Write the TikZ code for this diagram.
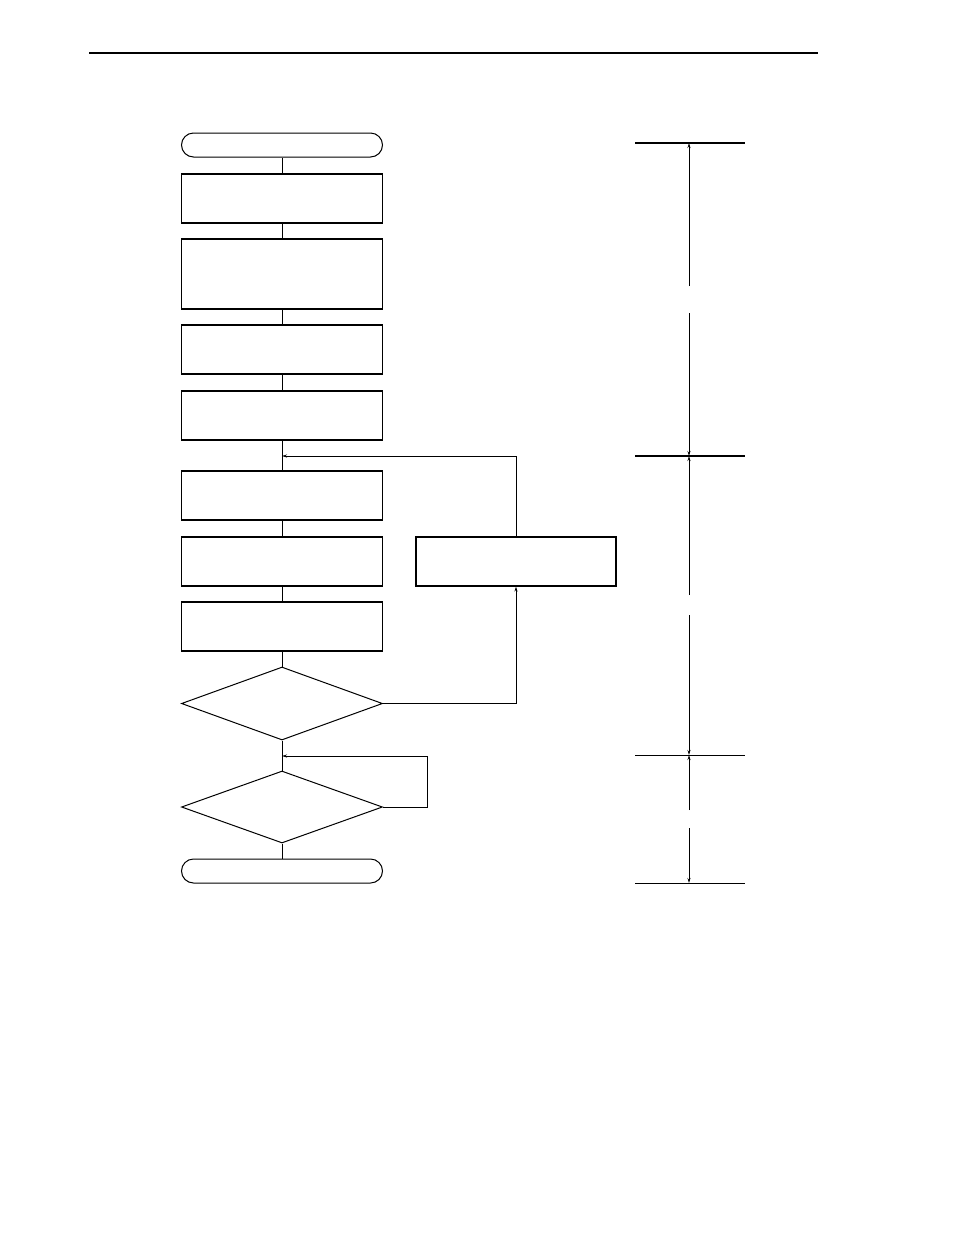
\documentclass[tikz,border=0pt]{standalone}
\usetikzlibrary{shapes.geometric,arrows.meta}
\begin{document}
\begin{tikzpicture}[x=1pt,y=-1pt,
  box/.style={draw, line width=1.1pt, minimum width=201pt, minimum height=49pt, inner sep=0pt},
  term/.style={draw, line width=1pt, rounded corners=12pt, minimum width=201pt, minimum height=24pt, inner sep=0pt},
  dec/.style={draw, diamond, line width=1pt, minimum width=201pt, minimum height=73pt, inner sep=0pt},
  link/.style={line width=0.9pt},
  arr/.style={link, -{Stealth[length=5pt,width=3pt]}},
  tick/.style={line width=1.6pt},
  thintick/.style={line width=1pt},
  dimline/.style={line width=0.9pt},
  dimarr/.style={dimline, -{Stealth[length=5pt,width=3pt]}}]
\useasboundingbox (0,0) rectangle (954,1235);
% header rule
\coordinate (hl) at (89,53);
\coordinate (hr) at (818,53);
\draw[line width=1.4pt] (hl) -- (hr);
% flow nodes
\node[term] (start) at (282,145) {};
\node[box] (b1) at (282,198.5) {};
\node[box, minimum height=70pt] (b2) at (282,274) {};
\node[box] (b3) at (282,349.5) {};
\node[box] (b4) at (282,415.5) {};
\node[box] (b5) at (282,495.5) {};
\node[box] (b6) at (282,561.5) {};
\node[box] (b7) at (282,626.5) {};
\node[dec] (d1) at (282,703.5) {};
\node[dec, minimum height=72pt] (d2) at (282,807) {};
\node[term] (end) at (282,871) {};
\node[box, minimum width=200pt] (side) at (516,561.5) {};
\coordinate (j1) at (282,456);
\coordinate (j2) at (282,756);
\coordinate (lp) at (427,807);
% connectors
\draw[link] (start.south) -- (b1.north);
\draw[link] (b1.south) -- (b2.north);
\draw[link] (b2.south) -- (b3.north);
\draw[link] (b3.south) -- (b4.north);
\draw[link] (b4.south) -- (b5.north);
\draw[link] (b5.south) -- (b6.north);
\draw[link] (b6.south) -- (b7.north);
\draw[link] (b7.south) -- (d1.north);
\draw[link] (d1.south) -- (d2.north);
\draw[link] (d2.south) -- (end.north);
\draw[arr] (d1.east) -| (side.south);
\draw[arr] (side.north) |- (j1);
\draw[arr] (d2.east) -- (lp) |- (j2);
% dimension marks
\coordinate (t0l) at (635,143); \coordinate (t0r) at (745,143);
\coordinate (t1l) at (635,456); \coordinate (t1r) at (745,456);
\coordinate (t2l) at (635,755); \coordinate (t2r) at (745,755);
\coordinate (t3l) at (635,883); \coordinate (t3r) at (745,883);
\draw[tick] (t0l) -- (t0r);
\draw[tick] (t1l) -- (t1r);
\draw[thintick] (t2l) -- (t2r);
\draw[thintick] (t3l) -- (t3r);
\coordinate (v0) at (689,143);
\coordinate (g0a) at (689,286); \coordinate (g0b) at (689,313);
\coordinate (v1) at (689,456);
\coordinate (g1a) at (689,595); \coordinate (g1b) at (689,615);
\coordinate (v2) at (689,755);
\coordinate (g2a) at (689,810); \coordinate (g2b) at (689,828);
\coordinate (v3) at (689,883);
\draw[dimarr] (g0a) -- (v0);
\draw[dimarr] (g0b) -- (v1);
\draw[dimarr] (g1a) -- (v1);
\draw[dimarr] (g1b) -- (v2);
\draw[dimarr] (g2a) -- (v2);
\draw[dimarr] (g2b) -- (v3);
\end{tikzpicture}
\end{document}
